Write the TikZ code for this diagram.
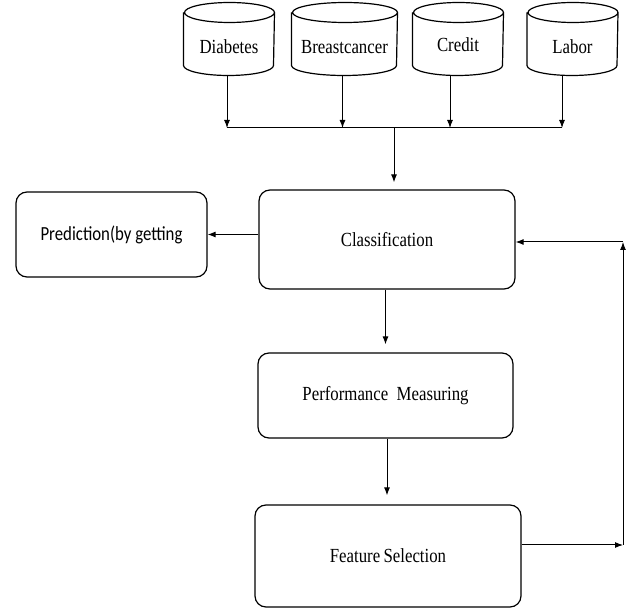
\documentclass[tikz,border=0pt]{standalone}
\usepackage{fontspec}
\setmainfont{Liberation Serif}[FakeStretch=0.84]
\newfontfamily\predfont{Carlito}[FakeStretch=0.84]
\usetikzlibrary{arrows.meta,positioning}
\tikzset{
	data/.style={minimum width=90pt, minimum height=72pt, inner sep=0pt,
		font=\fontsize{20}{23}\selectfont},
	stepbox/.style={draw, line width=1.2pt, rounded corners=11pt, inner sep=0pt,
		font=\fontsize{20}{23}\selectfont},
}

\begin{document}
\begin{tikzpicture}[>={Latex[length=8pt,width=6pt]}, x=1pt, y=-1pt, line width=1pt]
\useasboundingbox (0,0) rectangle (627,609);
% the data sets
\node[data] at (229,39) (dia) {};
\node[data, minimum width=105pt] at (344.5,39) (bre) {};
\node[data] at (458,39) (cre) {};
\node[data] at (572.5,39) (lab) {};
\foreach \n/\r in {dia/45,bre/52.5,cre/45,lab/45}
	\draw[line width=1.2pt] ([yshift=-10pt]\n.north west) -- ([yshift=10pt]\n.south west)
		arc[start angle=180, end angle=360, x radius=\r pt, y radius=10pt]
		-- ([yshift=-10pt]\n.north east)
		arc[start angle=0, end angle=360, x radius=\r pt, y radius=10pt];
\node[font=\fontsize{20}{23}\selectfont] at (229,47) {Diabetes};
\node[font=\fontsize{20}{23}\selectfont] at (344.5,47) {Breastcancer};
\node[font=\fontsize{20}{23}\selectfont] at (458,45) {Credit};
\node[font=\fontsize{20}{23}\selectfont] at (572.5,47) {Labor};

% the steps
\node[stepbox, minimum width=256pt, minimum height=99pt] at (387,239.5) (cls) {Classification};
\node[stepbox, minimum width=191pt, minimum height=85pt, font=\predfont\fontsize{20}{23}\selectfont] at (111.5,234.5) (pred) {Prediction(by getting};
\node[stepbox, minimum width=255pt, minimum height=85pt] at (385.5,395.5) (perf) {Performance\ \ Measuring};
\node[stepbox, minimum width=266pt, minimum height=102pt] at (388,556) (feat) {Feature\,Selection};

\coordinate (busl) at (227,128);
\coordinate (busr) at (562,128);
\coordinate (busm) at (394,128);
\coordinate (fbr) at (623,545);
\coordinate (fbt) at (623,242);

% the arrows
\draw[->] (dia.south -| busl) -- (busl);
\draw[->] ([xshift=-2pt]bre.south) -- ([xshift=-2pt]bre.south |- busl);
\draw[->] ([xshift=-8pt]cre.south) -- ([xshift=-8pt]cre.south |- busl);
\draw[->] (lab.south -| busr) -- (busr);
\draw (busl) -- (busr);
\draw[->, shorten >=7pt] (busm) -- (busm |- cls.north);
\draw[->] (cls.west |- pred.east) -- (pred.east);
\draw[->, shorten >=8pt] (cls.south -| perf.north) -- (perf.north);
\draw[->, shorten >=9pt] ([xshift=1.5pt]perf.south) -- ([xshift=1.5pt]perf.south |- feat.north);
\draw[->] (feat.east |- fbr) -- (fbr);
\draw[->] (fbr) -- (fbt);
\draw[->] (fbt) -- (fbt -| cls.east);
\end{tikzpicture}
\end{document}
